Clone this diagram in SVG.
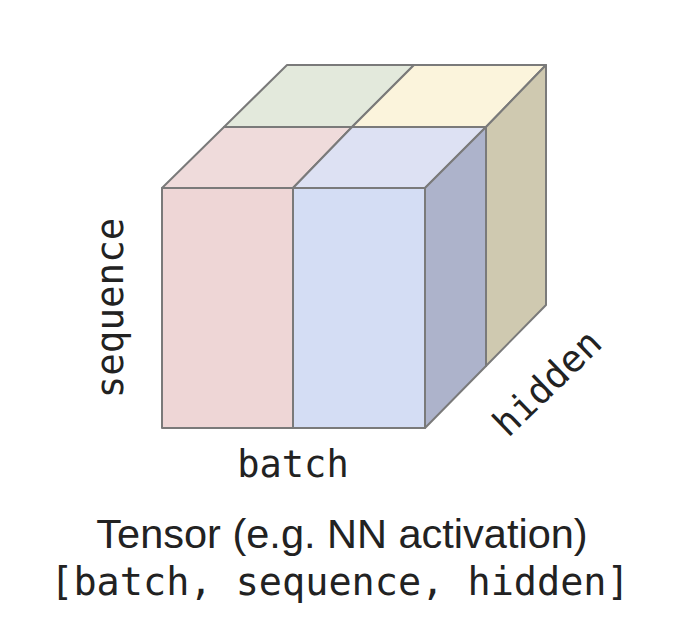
<svg xmlns="http://www.w3.org/2000/svg" width="684" height="640" viewBox="0 0 684 640">
<style>
.f{stroke:#7a7a7a;stroke-width:2;stroke-linejoin:round}
.mono{font-family:"DejaVu Sans Mono",monospace;fill:#222}
.sans{font-family:"Liberation Sans",Arial,sans-serif;fill:#222}
</style>
<rect width="684" height="640" fill="#ffffff"/>
<g id="cube">
<polygon id="top-back-left" class="f" fill="#e3e9dc" points="224,127 287,65 414,65 352,127"/>
<polygon id="top-back-right" class="f" fill="#fbf4dc" points="352,127 414,65 546,65 486,127"/>
<polygon id="top-front-left" class="f" fill="#efdbdb" points="162,188 224,127 352,127 293,188"/>
<polygon id="top-front-right" class="f" fill="#dde1f3" points="293,188 352,127 486,127 425,188"/>
<polygon id="side-back" class="f" fill="#cfc9b0" points="486,127 546,65 546,305 486,366"/>
<polygon id="side-front" class="f" fill="#adb3cb" points="425,188 486,127 486,366 425,428"/>
<rect id="front-left" class="f" fill="#eed6d6" x="162" y="188" width="131" height="240"/>
<rect id="front-right" class="f" fill="#d4ddf4" x="293" y="188" width="132" height="240"/>
</g>
<g id="labels">
<text class="mono" font-size="37.5" text-anchor="middle" transform="translate(123,308) rotate(-90)">sequence</text>
<text class="mono" font-size="37" text-anchor="middle" x="293" y="477">batch</text>
<text class="mono" font-size="37" text-anchor="middle" transform="translate(556,392) rotate(-44)">hidden</text>
<text class="sans" font-size="41.5" text-anchor="middle" x="342" y="548">Tensor (e.g. NN activation)</text>
<text class="mono" font-size="38.5" text-anchor="middle" x="340" y="595">[batch, sequence, hidden]</text>
</g>
</svg>
